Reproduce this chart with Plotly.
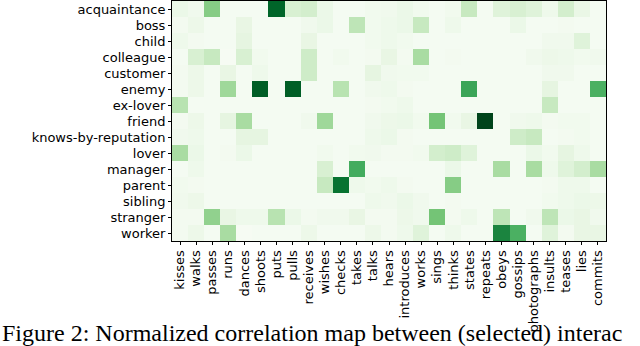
import plotly.graph_objects as go

# Row labels (relations) and column labels (interactions)
relations = ['acquaintance', 'boss', 'child', 'colleague', 'customer', 'enemy',
             'ex-lover', 'friend', 'knows-by-reputation', 'lover', 'manager',
             'parent', 'sibling', 'stranger', 'worker']
interactions = ['kisses', 'walks', 'passes', 'runs', 'dances', 'shoots', 'puts',
                'pulls', 'receives', 'wishes', 'checks', 'takes', 'talks', 'hears',
                'introduces', 'works', 'sings', 'thinks', 'states', 'repeats',
                'obeys', 'gossips', 'photographs', 'insults', 'teases', 'lies',
                'commits']

# Normalized correlation values, one list per relation
acquaintance = [0.08, 0.05, 0.45, 0.02, 0.02, 0.02, 0.90, 0.18, 0.20, 0.08, 0.02, 0.02, 0.04, 0.05,
                0.08, 0.04, 0.02, 0.04, 0.25, 0.02, 0.15, 0.18, 0.15, 0.06, 0.20, 0.09, 0.02]
boss = [0.03, 0.07, 0.02, 0.02, 0.10, 0.02, 0.02, 0.02, 0.05, 0.08, 0.02, 0.28, 0.04, 0.06,
        0.08, 0.25, 0.02, 0.06, 0.02, 0.02, 0.02, 0.08, 0.02, 0.02, 0.03, 0.02, 0.02]
child = [0.06, 0.03, 0.02, 0.02, 0.12, 0.02, 0.02, 0.02, 0.10, 0.02, 0.02, 0.02, 0.04, 0.06,
         0.04, 0.02, 0.02, 0.02, 0.02, 0.02, 0.02, 0.02, 0.02, 0.05, 0.05, 0.15, 0.02]
colleague = [0.02, 0.18, 0.25, 0.01, 0.18, 0.04, 0.02, 0.02, 0.22, 0.02, 0.04, 0.02, 0.03, 0.10,
             0.03, 0.35, 0.02, 0.03, 0.02, 0.02, 0.02, 0.02, 0.05, 0.07, 0.06, 0.04, 0.05]
customer = [0.03, 0.07, 0.02, 0.10, 0.02, 0.06, 0.02, 0.02, 0.22, 0.02, 0.02, 0.02, 0.12, 0.05,
            0.04, 0.04, 0.02, 0.02, 0.02, 0.02, 0.02, 0.02, 0.02, 0.05, 0.05, 0.02, 0.02]
enemy = [0.03, 0.07, 0.02, 0.38, 0.02, 0.92, 0.02, 0.92, 0.02, 0.02, 0.30, 0.02, 0.05, 0.06,
         0.03, 0.02, 0.02, 0.02, 0.65, 0.02, 0.02, 0.02, 0.02, 0.12, 0.02, 0.02, 0.60]
ex_lover = [0.30, 0.02, 0.02, 0.02, 0.02, 0.02, 0.02, 0.02, 0.02, 0.02, 0.02, 0.02, 0.03, 0.04,
            0.06, 0.02, 0.02, 0.02, 0.02, 0.02, 0.02, 0.02, 0.02, 0.25, 0.02, 0.02, 0.02]
friend = [0.03, 0.07, 0.02, 0.12, 0.35, 0.02, 0.02, 0.02, 0.05, 0.38, 0.02, 0.02, 0.05, 0.07,
          0.08, 0.04, 0.50, 0.04, 0.10, 1.00, 0.02, 0.05, 0.06, 0.03, 0.04, 0.04, 0.02]
knows_by_reputation = [0.05, 0.06, 0.02, 0.02, 0.12, 0.12, 0.02, 0.02, 0.02, 0.02, 0.02, 0.02, 0.06, 0.08,
                       0.03, 0.02, 0.02, 0.02, 0.02, 0.02, 0.02, 0.22, 0.25, 0.02, 0.03, 0.04, 0.02]
lover = [0.35, 0.08, 0.02, 0.03, 0.08, 0.02, 0.02, 0.02, 0.02, 0.04, 0.02, 0.04, 0.05, 0.03,
         0.03, 0.04, 0.20, 0.22, 0.15, 0.02, 0.02, 0.02, 0.08, 0.04, 0.12, 0.06, 0.02]
manager = [0.02, 0.06, 0.02, 0.02, 0.02, 0.02, 0.02, 0.02, 0.02, 0.18, 0.02, 0.62, 0.02, 0.02,
           0.02, 0.02, 0.02, 0.08, 0.02, 0.02, 0.35, 0.02, 0.35, 0.06, 0.15, 0.20, 0.35]
parent = [0.04, 0.03, 0.02, 0.02, 0.02, 0.02, 0.02, 0.02, 0.02, 0.25, 0.85, 0.06, 0.04, 0.06,
          0.03, 0.02, 0.02, 0.45, 0.02, 0.02, 0.02, 0.02, 0.02, 0.03, 0.06, 0.06, 0.02]
sibling = [0.05, 0.07, 0.02, 0.02, 0.02, 0.02, 0.02, 0.02, 0.02, 0.02, 0.02, 0.02, 0.06, 0.05,
           0.08, 0.05, 0.02, 0.03, 0.02, 0.02, 0.02, 0.02, 0.02, 0.04, 0.06, 0.08, 0.07]
stranger = [0.03, 0.03, 0.42, 0.10, 0.06, 0.06, 0.30, 0.08, 0.03, 0.05, 0.05, 0.10, 0.03, 0.03,
            0.07, 0.05, 0.50, 0.03, 0.06, 0.02, 0.28, 0.02, 0.05, 0.28, 0.08, 0.10, 0.05]
worker = [0.03, 0.07, 0.02, 0.35, 0.01, 0.02, 0.02, 0.02, 0.07, 0.02, 0.02, 0.02, 0.07, 0.03,
          0.06, 0.15, 0.02, 0.06, 0.02, 0.02, 0.78, 0.60, 0.02, 0.15, 0.03, 0.10, 0.10]

values = [acquaintance, boss, child, colleague, customer, enemy, ex_lover, friend,
          knows_by_reputation, lover, manager, parent, sibling, stranger, worker]

# matplotlib "Greens"
greens = [[0.0, '#f7fcf5'], [0.125, '#e5f5e0'], [0.25, '#c7e9c0'], [0.375, '#a1d99b'],
          [0.5, '#74c476'], [0.625, '#41ab5d'], [0.75, '#238b45'], [0.875, '#006d2c'],
          [1.0, '#00441b']]

fig = go.Figure(go.Heatmap(
    z=values,
    x=interactions,
    y=relations,
    colorscale=greens,
    zmin=0, zmax=1,
    showscale=False,
))

axis_common = dict(
    showline=True, linecolor='black', linewidth=1, mirror=True,
    ticks='outside', ticklen=3, tickcolor='black', tickwidth=1,
    showgrid=False, zeroline=False, dtick=1,
    tickfont=dict(family='DejaVu Sans', size=13, color='black'),
)

fig.update_layout(
    width=640, height=346,
    margin=dict(l=172, r=34, t=1, b=105, autoexpand=False),
    paper_bgcolor='white', plot_bgcolor='white',
    xaxis=dict(tickangle=-90, **axis_common),
    yaxis=dict(autorange='reversed', **axis_common),
)

# Caption underneath; only the part visible in the page crop
fig.add_annotation(
    text='Figure 2: Normalized correlation map between (selected) interac',
    xref='paper', yref='paper', x=-0.396, y=-0.383,
    xanchor='left', yanchor='middle', showarrow=False,
    font=dict(family='Liberation Serif', size=24, color='black'),
)

# drop the browser's default body margin so the figure sits at the page corner
fig.write_html('out.html', config={'displayModeBar': False},
               post_script="document.body.style.margin='0';")
